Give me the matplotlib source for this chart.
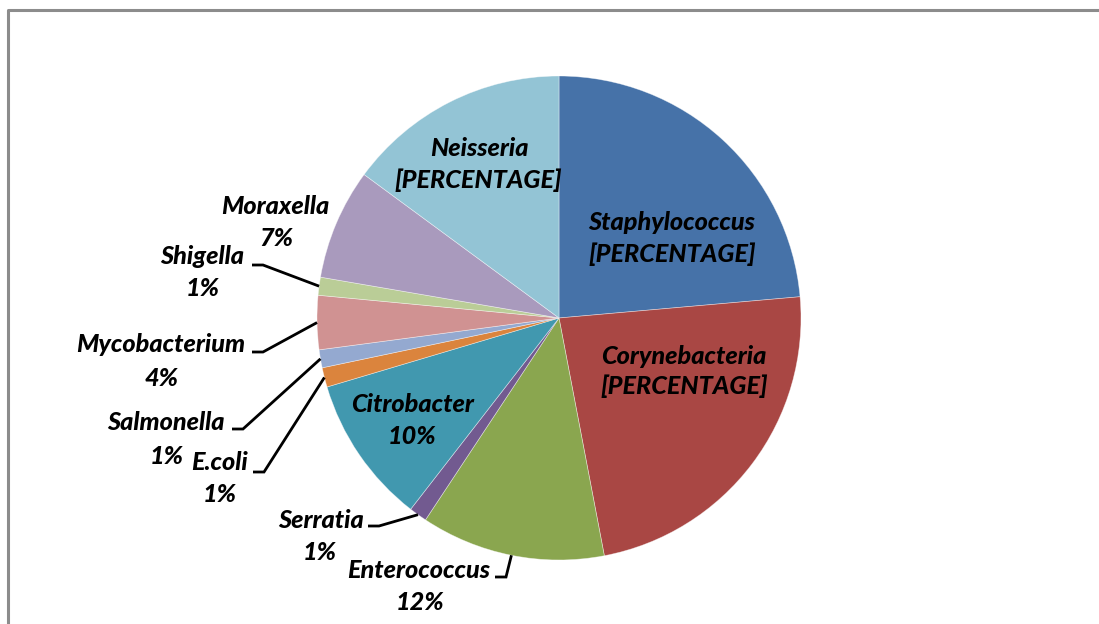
import matplotlib.pyplot as plt
from matplotlib.lines import Line2D
import numpy as np

# slices, clockwise from 12 o'clock
names = ['Staphylococcus', 'Corynebacteria', 'Enterococcus', 'Serratia', 'Citrobacter',
         'E.coli', 'Salmonella', 'Mycobacterium', 'Shigella', 'Moraxella', 'Neisseria']
values = [23.6, 23.4, 12.3, 1.2, 9.9, 1.3, 1.2, 3.6, 1.2, 7.4, 14.9]
pct_labels = ['[PERCENTAGE]', '[PERCENTAGE]', '12%', '1%', '10%', '1%', '1%', '4%', '1%', '7%',
              '[PERCENTAGE]']
colors = ['#4672A8', '#A94744', '#8AA64F', '#725A90', '#4198AF', '#DB843D', '#94A9D0',
          '#D09292', '#BACD97', '#A99ABD', '#93C4D5']

W, H = 1099, 624
cx, cy, r = 559, 318, 242

# label line centres in pixels (x, y from top)
name_pos = [(672, 222), (684, 356), (419, 571), (321, 520), (412, 404), (220, 462),
            (166, 423), (161, 345), (202, 257), (275, 207), (479, 148)]
pct_pos = [(672, 254), (684, 386), (420, 602), (320, 553), (412, 436), (220, 494),
           (167, 457), (162, 378), (203, 288), (276, 238), (478, 180)]
# leader lines: start of the little underscore after the name
leaders = {'Enterococcus': (495, 577), 'Serratia': (368, 526), 'E.coli': (253, 472),
           'Salmonella': (232, 429), 'Mycobacterium': (252, 352), 'Shigella': (252, 265)}

fig = plt.figure(figsize=(W / 100, H / 100), dpi=100)
ax = fig.add_axes([0, 0, 1, 1])
wedges, _ = ax.pie(values, colors=colors, startangle=90, counterclock=False,
                   center=(cx, H - cy), radius=r,
                   wedgeprops=dict(edgecolor=(1, 1, 1, 0.5), linewidth=0.5))
ax.set_xlim(0, W)
ax.set_ylim(0, H)
ax.set_aspect('auto')
ax.axis('off')

font = dict(family='Lato', weight='black', style='italic', size=18.2, color='black')
for name, pct, p1, p2 in zip(names, pct_labels, name_pos, pct_pos):
    ax.text(p1[0], H - p1[1], name, ha='center', va='center', **font)
    ax.text(p2[0], H - p2[1], pct, ha='center', va='center', **font)

for w, name in zip(wedges, names):
    if name not in leaders:
        continue
    x0, y0 = leaders[name]
    mid = np.deg2rad((w.theta1 + w.theta2) / 2)
    ex, ey = cx + r * np.cos(mid), (H - cy) + r * np.sin(mid)
    ax.plot([x0, x0 + 11, ex], [H - y0, H - y0, ey], color='black', lw=2,
            solid_capstyle='butt', solid_joinstyle='miter')

# outer chart frame (only top and left visible)
fig.add_artist(Line2D([8 / W, 8 / W, 1], [0, 1 - 10 / H, 1 - 10 / H],
                      transform=fig.transFigure, color='#8c8c8c', lw=2.2))

fig.savefig('out.png', dpi=100)
